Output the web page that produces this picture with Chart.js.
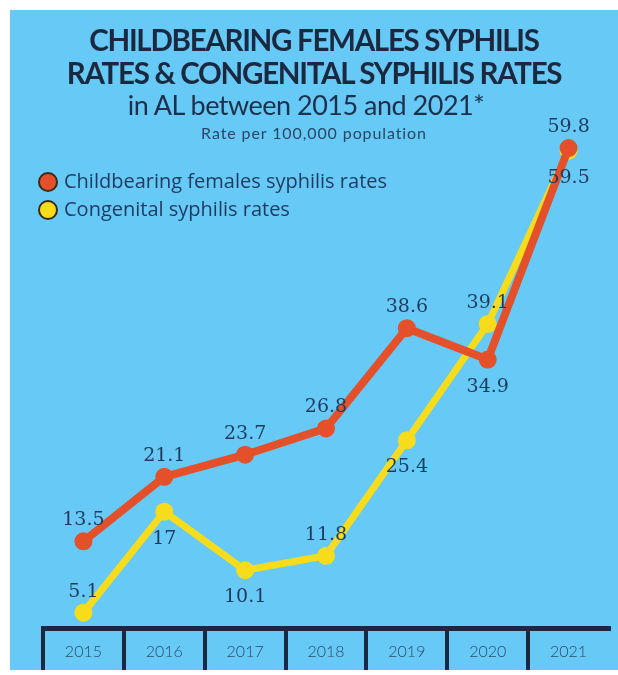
<!DOCTYPE html>
<html>
<head>
<meta charset="utf-8">
<script src="https://cdn.jsdelivr.net/npm/chart.js@4.4.1/dist/chart.umd.min.js"></script>
<style>
    body { margin: 0; background: #ffffff; }
    #panel {
        position: absolute; left: 10px; top: 10px;
        width: 608px; height: 660px;
        background: #66c9f6; overflow: hidden;
    }
    #panel canvas { position: absolute; left: 0; top: 0; }
    .head {
        position: absolute; left: 0; width: 100%;
        text-align: center; color: #1b2940; white-space: nowrap;
    }
    .t1 { font: 700 29.5px Lato, sans-serif; letter-spacing: -1.3px; }
    .t2 { font: 400 27px Lato, sans-serif; letter-spacing: -0.5px; color: #1d2f4a; }
    .t3 { font: 400 16px Lato, sans-serif; letter-spacing: 0.9px; color: #2a4666; }
</style>
</head>
<body>
<div id="panel">
    <canvas id="sifilisChart" width="608" height="660"></canvas>
    <div class="head t1" style="top:12px">CHILDBEARING FEMALES SYPHILIS</div>
    <div class="head t1" style="top:45px">RATES &amp; CONGENITAL SYPHILIS RATES</div>
    <div class="head t2" style="top:78px; left:-8px">in AL between 2015 and 2021*</div>
    <div class="head t3" style="top:113px">Rate per 100,000 population</div>
</div>
<script>
// Tahun dan nilai per 100.000 penduduk
const years = ["2015", "2016", "2017", "2018", "2019", "2020", "2021"];
const femaleRates = [13.5, 21.1, 23.7, 26.8, 38.6, 34.9, 59.8];
const congenitalRates = [5.1, 17, 10.1, 11.8, 25.4, 39.1, 59.5];

// Letak label angka: di atas (1) atau di bawah (-1) titik
const femaleLabelSide = [1, 1, 1, 1, 1, -1, 1];
const congenitalLabelSide = [1, -1, -1, 1, -1, 1, -1];

const navy = "#1b2940";
const red = "#e4502a";
const yellow = "#f7dc1c";

// Legenda bulat di kiri atas
const legendDots = {
    id: "legendDots",
    afterDraw(chart) {
        const ctx = chart.ctx;
        ctx.save();
        ctx.font = "20px 'Open Sans', sans-serif";
        ctx.textBaseline = "middle";
        chart.data.datasets.forEach((ds, i) => {
            const y = 172 + i * 28;
            ctx.beginPath();
            ctx.arc(38, y, 9, 0, Math.PI * 2);
            ctx.fillStyle = ds.borderColor;
            ctx.fill();
            ctx.lineWidth = 2;
            ctx.strokeStyle = "#3a2a1a";
            ctx.stroke();
            ctx.fillStyle = "#1f3a5f";
            ctx.fillText(ds.label, 54, y);
        });
        ctx.restore();
    },
};

// Angka di dekat setiap titik
const pointValues = {
    id: "pointValues",
    afterDatasetsDraw(chart) {
        const ctx = chart.ctx;
        ctx.save();
        ctx.font = "19px 'DejaVu Serif', serif";
        ctx.fillStyle = "#1e3b5e";
        ctx.textAlign = "center";
        ctx.textBaseline = "middle";
        chart.data.datasets.forEach((ds, i) => {
            const meta = chart.getDatasetMeta(i);
            meta.data.forEach((pt, j) => {
                const side = ds.labelSide[j];
                const dy = side > 0 ? -21 : 27;
                ctx.fillText(String(ds.data[j]), pt.x, pt.y + dy);
            });
        });
        ctx.restore();
    },
};

const ctx = document.getElementById("sifilisChart").getContext("2d");

let sifilisChart = new Chart(ctx, {
    type: "line",
    data: {
        labels: years,
        datasets: [
            {
                label: "Childbearing females syphilis rates",
                data: femaleRates,
                labelSide: femaleLabelSide,
                borderColor: red,
                backgroundColor: red,
                borderWidth: 8,
                pointRadius: 9,
                pointBorderWidth: 0,
                tension: 0,
                clip: false,
            },
            {
                label: "Congenital syphilis rates",
                data: congenitalRates,
                labelSide: congenitalLabelSide,
                borderColor: yellow,
                backgroundColor: yellow,
                borderWidth: 7,
                pointRadius: 9,
                pointBorderWidth: 0,
                tension: 0,
                clip: false,
            },
        ],
    },
    options: {
        responsive: false,
        animation: false,
        layout: { padding: { left: 33, right: 0, top: 0, bottom: 0 } },
        plugins: {
            legend: { display: false },
            tooltip: { enabled: false },
        },
        scales: {
            x: {
                offset: true,
                // tinggi sumbu tetap supaya label tahun muat di antara garis pemisah
                afterFit: (scale) => {
                    scale.height = 42;
                },
                border: { display: true, color: navy, width: 5 },
                grid: {
                    offset: true,
                    drawOnChartArea: false,
                    drawTicks: true,
                    tickLength: 42,
                    // garis pemisah paling kanan tidak digambar
                    color: (c) => (c.type === "tick" ? navy : "transparent"),
                    lineWidth: 4,
                },
                ticks: {
                    padding: -28,
                    color: "#2c4a6b",
                    font: { family: "Lato", size: 16, weight: 300 },
                },
            },
            y: {
                display: false,
                min: 3.3,
                max: 75,
            },
        },
    },
    plugins: [legendDots, pointValues],
});
</script>
</body>
</html>
